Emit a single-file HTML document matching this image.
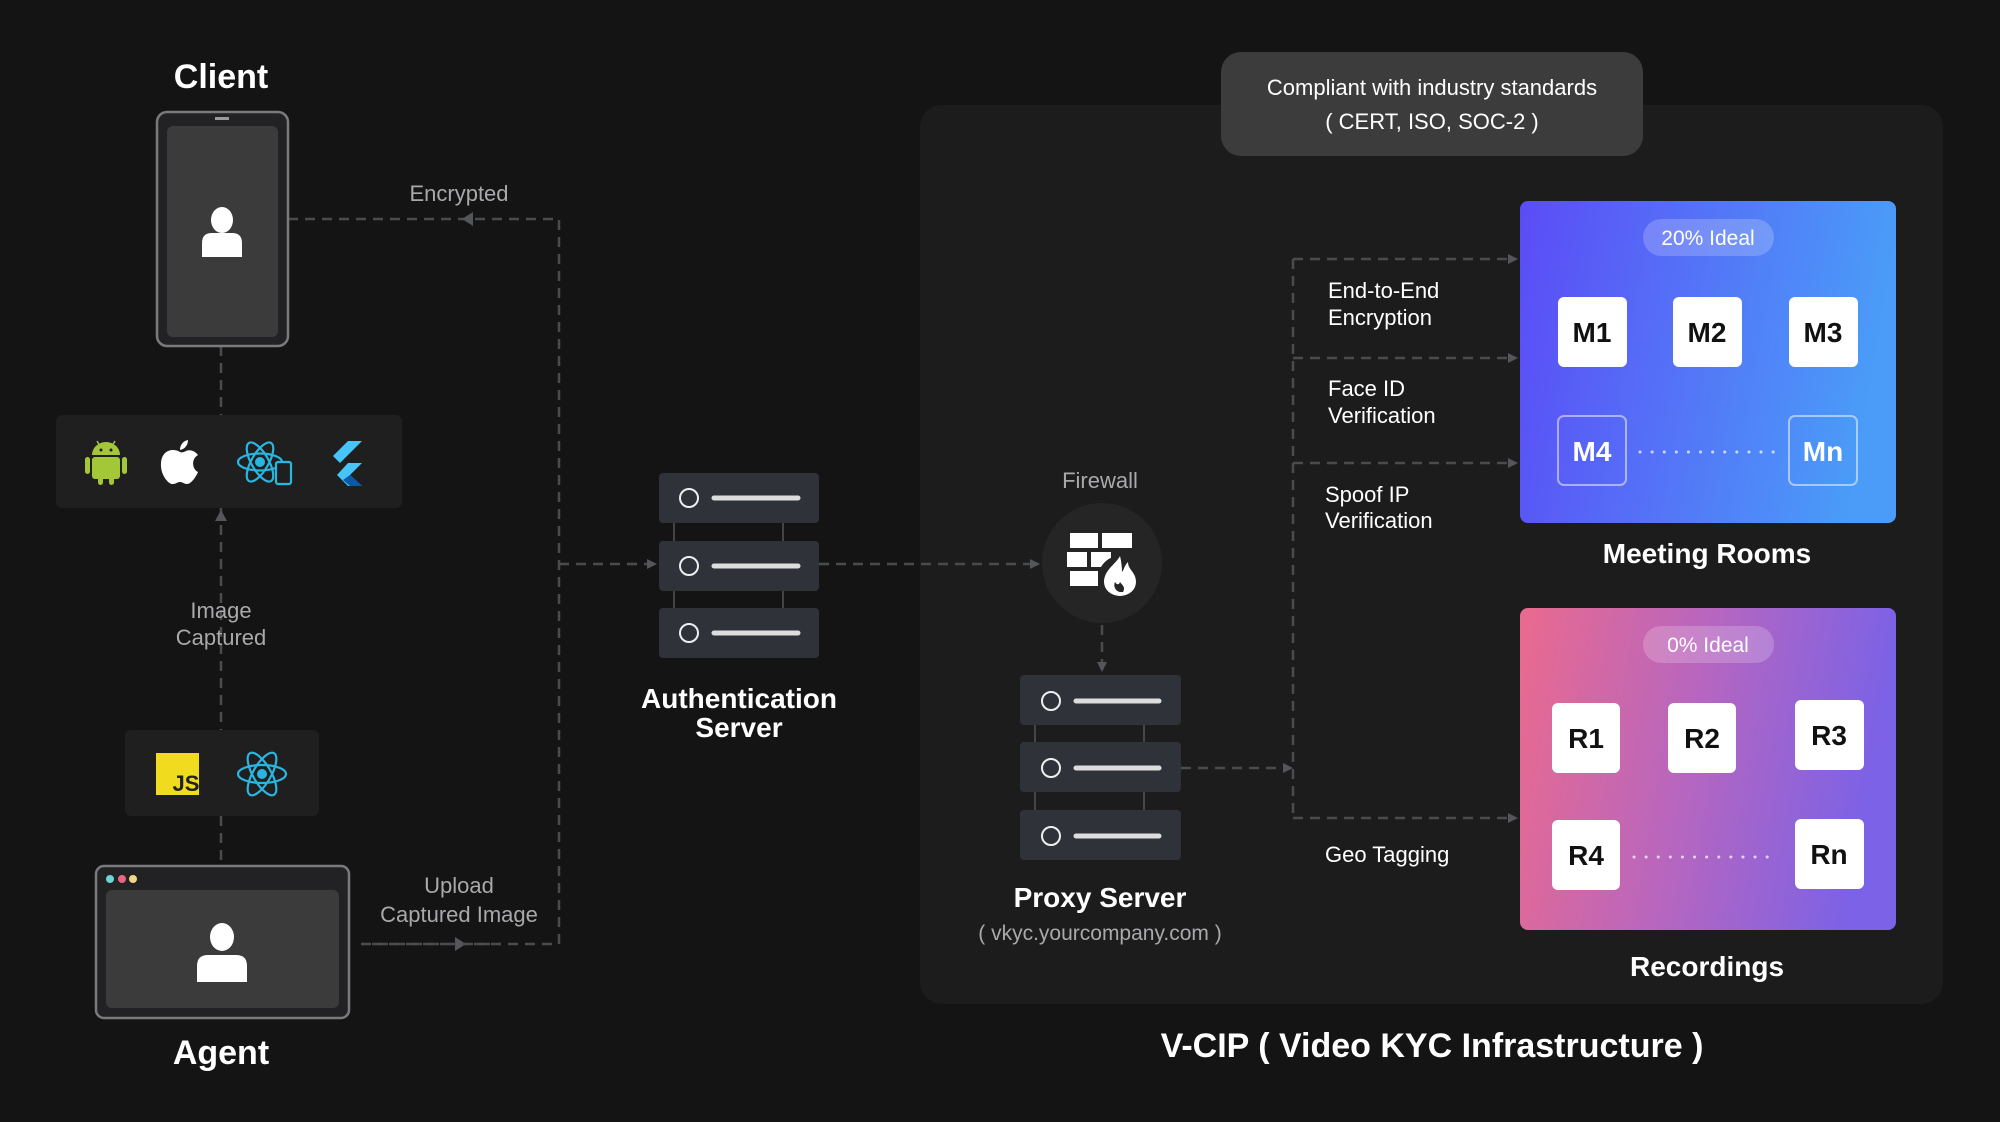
<!DOCTYPE html>
<html><head><meta charset="utf-8"><style>
html,body{margin:0;padding:0;background:#141415;}
svg{display:block}
text{font-family:"Liberation Sans",sans-serif;}
</style></head><body>
<svg width="2000" height="1122" viewBox="0 0 2000 1122" xmlns="http://www.w3.org/2000/svg">
<defs>
<linearGradient id="gm" x1="0" y1="0" x2="1" y2="0.15"><stop offset="0" stop-color="#5b4cf6"/><stop offset="0.5" stop-color="#5474f7"/><stop offset="1" stop-color="#4a9cf8"/></linearGradient>
<linearGradient id="gr" x1="0" y1="0" x2="1" y2="0.15"><stop offset="0" stop-color="#ea6a8e"/><stop offset="0.5" stop-color="#b766bf"/><stop offset="1" stop-color="#7b62e6"/></linearGradient>
<marker id="ah" markerWidth="10" markerHeight="10" refX="8" refY="5" orient="auto" markerUnits="userSpaceOnUse"><path d="M0,0 L10,5 L0,10 z" fill="#55565a"/></marker>
</defs>
<rect width="2000" height="1122" fill="#141415"/>

<!-- container -->
<rect x="920" y="105" width="1023" height="899" rx="22" fill="#1c1c1d"/>
<rect x="1221" y="52" width="422" height="104" rx="20" fill="#3c3c3d"/>
<text x="1432" y="95" text-anchor="middle" fill="#fff" font-size="22">Compliant with industry standards</text>
<text x="1432" y="129" text-anchor="middle" fill="#fff" font-size="22">( CERT, ISO, SOC-2 )</text>

<!-- dashed connectors -->
<g stroke="#4a4b4f" stroke-width="2.5" stroke-dasharray="10,7" fill="none">
<path d="M221 346 V415"/>
<path d="M221 508 V730"/>
<path d="M221 816 V865"/>
<path d="M288 219 H559 V944 H361"/>
<path d="M559 564 H655" marker-end="url(#ah)"/>
<path d="M819 564 H1038" marker-end="url(#ah)"/>
<path d="M1102 625 V670" marker-end="url(#ah)"/>
<path d="M1181 768 H1291" marker-end="url(#ah)"/>
<path d="M1293 259 V818"/>
<path d="M1293 259 H1516" marker-end="url(#ah)"/>
<path d="M1293 358 H1516" marker-end="url(#ah)"/>
<path d="M1293 463 H1516" marker-end="url(#ah)"/>
<path d="M1293 818 H1516" marker-end="url(#ah)"/>
</g>
<path d="M221 510 l-6 11 h12 z" fill="#55565a"/>
<path d="M462 219 l11 -7 v14 z" fill="#55565a"/>
<path d="M466 944 l-11 -7 v14 z" fill="#55565a"/>
<path d="M490 944 H361" stroke="#4a4b4f" stroke-width="2.5" stroke-dasharray="10,7"/>

<!-- Client -->
<text x="221" y="88" text-anchor="middle" fill="#fff" font-size="34" font-weight="bold">Client</text>
<rect x="157" y="112" width="131" height="234" rx="10" fill="#222224" stroke="#7a7a7c" stroke-width="2.5"/>
<rect x="167" y="126" width="111" height="211" rx="6" fill="#3b3b3c"/>
<rect x="215" y="117" width="14" height="3" fill="#9a9a9a"/>
<ellipse cx="222" cy="220" rx="11" ry="13" fill="#fff"/>
<path d="M202 257 V243 q0-10 10-10 h20 q10 0 10 10 V257 z" fill="#fff"/>

<!-- platforms -->
<rect x="56" y="415" width="346" height="93" rx="6" fill="#1f1f20"/>
<!-- android -->
<g fill="#a4c639">
<path d="M92 455 a14 13 0 0 1 28 0 z"/>
<rect x="92" y="457" width="28" height="22" rx="3"/>
<rect x="85" y="457" width="5" height="17" rx="2.5"/>
<rect x="122" y="457" width="5" height="17" rx="2.5"/>
<rect x="98" y="475" width="5" height="10" rx="2.5"/>
<rect x="109" y="475" width="5" height="10" rx="2.5"/>
<path d="M97 441 l3 5 M115 441 l-3 5" stroke="#a4c639" stroke-width="1.5"/>
</g>
<circle cx="101" cy="450" r="1.5" fill="#1f1f20"/><circle cx="111" cy="450" r="1.5" fill="#1f1f20"/>
<!-- apple -->
<path d="M180 452 c-6-4-18-3-19 11 c-1 12 8 22 12 21 c3 0 4-2 7-2 c3 0 4 2 7 2 c4 0 9-7 11-12 c-6-3-7-13 0-17 c-3-4-8-6-12-4 c-2 1-4 2-6 1 z M180 450 c0-5 3-9 8-10 c0 5-3 9-8 10 z" fill="#fff"/>
<!-- react mobile -->
<g stroke="#29b6e0" stroke-width="2.2" fill="none">
<ellipse cx="260" cy="462" rx="22" ry="8.5"/>
<ellipse cx="260" cy="462" rx="22" ry="8.5" transform="rotate(60 260 462)"/>
<ellipse cx="260" cy="462" rx="22" ry="8.5" transform="rotate(-60 260 462)"/>
<rect x="276" y="462" width="15" height="22" rx="2" fill="#1f1f20"/>
</g>
<circle cx="260" cy="462" r="5" fill="#29b6e0"/>
<!-- flutter -->
<path d="M348 441 h14 l-22 22 l-7 -7 z" fill="#47c5fb"/>
<path d="M348 463 h14 l-12 12 l12 11 h-14 l-11 -11 z" fill="#47c5fb"/>
<path d="M343 480 l7 6 h12 l-12 -11 z" fill="#0b58a4"/>

<text x="221" y="618" text-anchor="middle" fill="#a9a9ab" font-size="22">Image</text>
<text x="221" y="645" text-anchor="middle" fill="#a9a9ab" font-size="22">Captured</text>

<!-- JS box -->
<rect x="125" y="730" width="194" height="86" rx="6" fill="#1f1f20"/>
<rect x="156" y="753" width="43" height="42" fill="#f0db1f"/>
<text x="186" y="791" text-anchor="middle" fill="#222" font-size="22" font-weight="bold">JS</text>
<g stroke="#29b6e0" stroke-width="2.2" fill="none">
<ellipse cx="262" cy="774" rx="24" ry="9"/>
<ellipse cx="262" cy="774" rx="24" ry="9" transform="rotate(60 262 774)"/>
<ellipse cx="262" cy="774" rx="24" ry="9" transform="rotate(-60 262 774)"/>
</g>
<circle cx="262" cy="774" r="5" fill="#29b6e0"/>

<!-- Agent -->
<rect x="96" y="866" width="253" height="152" rx="8" fill="#222224" stroke="#7a7a7c" stroke-width="2.5"/>
<rect x="106" y="890" width="233" height="118" rx="6" fill="#3b3b3c"/>
<circle cx="110" cy="879" r="4" fill="#6fd3d8"/><circle cx="122" cy="879" r="4" fill="#e8677e"/><circle cx="133" cy="879" r="4" fill="#f1d58a"/>
<ellipse cx="222" cy="937" rx="12" ry="14" fill="#fff"/>
<path d="M197 982 V966 q0-11 11-11 h28 q11 0 11 11 V982 z" fill="#fff"/>
<text x="221" y="1064" text-anchor="middle" fill="#fff" font-size="34" font-weight="bold">Agent</text>

<text x="459" y="201" text-anchor="middle" fill="#a9a9ab" font-size="22">Encrypted</text>
<text x="459" y="893" text-anchor="middle" fill="#a9a9ab" font-size="22">Upload</text>
<text x="459" y="922" text-anchor="middle" fill="#a9a9ab" font-size="22">Captured Image</text>

<!-- auth server -->
<g>
<line x1="674" y1="523" x2="674" y2="608" stroke="#555" stroke-width="1.5"/>
<line x1="783" y1="523" x2="783" y2="608" stroke="#555" stroke-width="1.5"/>
<rect x="659" y="473" width="160" height="50" rx="4" fill="#30323a"/>
<rect x="659" y="541" width="160" height="50" rx="4" fill="#30323a"/>
<rect x="659" y="608" width="160" height="50" rx="4" fill="#30323a"/>
<g stroke="#eee" fill="none" stroke-width="2"><circle cx="689" cy="498" r="9"/><circle cx="689" cy="566" r="9"/><circle cx="689" cy="633" r="9"/></g>
<g stroke="#ddd" stroke-width="5" stroke-linecap="round"><path d="M714 498 H798 M714 566 H798 M714 633 H798"/></g>
</g>
<text x="739" y="708" text-anchor="middle" fill="#fff" font-size="28" font-weight="bold">Authentication</text>
<text x="739" y="737" text-anchor="middle" fill="#fff" font-size="28" font-weight="bold">Server</text>

<!-- firewall -->
<text x="1100" y="488" text-anchor="middle" fill="#a9a9ab" font-size="22">Firewall</text>
<circle cx="1102" cy="563" r="60" fill="#252526"/>
<g fill="#fff">
<rect x="1070" y="533" width="28" height="15"/><rect x="1102" y="533" width="30" height="15"/>
<rect x="1067" y="552" width="20" height="15"/><rect x="1091" y="552" width="20" height="15"/>
<rect x="1070" y="571" width="28" height="15"/>
</g>
<circle cx="1120" cy="578" r="22" fill="#252526"/>
<path d="M1120 556 c-4 8 -16 14 -16 26 a16 14 0 0 0 32 0 c0-10 -8-12 -8-20 c-4 4 -4 8 -6 10 c0-6 -1-12 -2-16 z" fill="#fff"/>
<path d="M1120 592 a7 7 0 0 1 -5-10 c2 3 4 3 5 0 c2 3 6 5 3 10 z" fill="#252526"/>

<!-- proxy server -->
<line x1="1035" y1="725" x2="1035" y2="810" stroke="#555" stroke-width="1.5"/>
<line x1="1144" y1="725" x2="1144" y2="810" stroke="#555" stroke-width="1.5"/>
<rect x="1020" y="675" width="161" height="50" rx="4" fill="#30323a"/>
<rect x="1020" y="742" width="161" height="50" rx="4" fill="#30323a"/>
<rect x="1020" y="810" width="161" height="50" rx="4" fill="#30323a"/>
<g stroke="#eee" fill="none" stroke-width="2"><circle cx="1051" cy="701" r="9"/><circle cx="1051" cy="768" r="9"/><circle cx="1051" cy="836" r="9"/></g>
<g stroke="#ddd" stroke-width="5" stroke-linecap="round"><path d="M1076 701 H1159 M1076 768 H1159 M1076 836 H1159"/></g>
<text x="1100" y="907" text-anchor="middle" fill="#fff" font-size="28" font-weight="bold">Proxy Server</text>
<text x="1100" y="940" text-anchor="middle" fill="#a9a9ab" font-size="21">( vkyc.yourcompany.com )</text>

<!-- labels -->
<g fill="#fff" font-size="22">
<text x="1328" y="298">End-to-End</text><text x="1328" y="325">Encryption</text>
<text x="1328" y="396">Face ID</text><text x="1328" y="423">Verification</text>
<text x="1325" y="502">Spoof IP</text><text x="1325" y="528">Verification</text>
<text x="1325" y="862">Geo Tagging</text>
</g>

<!-- meeting rooms -->
<rect x="1520" y="201" width="376" height="322" rx="8" fill="url(#gm)"/>
<rect x="1643" y="219" width="131" height="37" rx="18.5" fill="#fff" fill-opacity="0.2"/>
<text x="1708" y="245" text-anchor="middle" fill="#fff" font-size="21">20% Ideal</text>
<g fill="#fff"><rect x="1558" y="297" width="69" height="70" rx="6"/><rect x="1673" y="297" width="69" height="70" rx="6"/><rect x="1789" y="297" width="69" height="70" rx="6"/></g>
<g fill="none" stroke="#fff" stroke-opacity="0.5" stroke-width="2"><rect x="1558" y="416" width="68" height="69" rx="6"/><rect x="1789" y="416" width="68" height="69" rx="6"/></g>
<g font-size="28" font-weight="bold" text-anchor="middle">
<text x="1592" y="342" fill="#111">M1</text><text x="1707" y="342" fill="#111">M2</text><text x="1823" y="342" fill="#111">M3</text>
<text x="1592" y="461" fill="#fff">M4</text><text x="1823" y="461" fill="#fff">Mn</text>
</g>
<line x1="1640" y1="452" x2="1777" y2="452" stroke="#fff" stroke-opacity="0.7" stroke-width="3" stroke-dasharray="0.1,12" stroke-linecap="round"/>
<text x="1707" y="563" text-anchor="middle" fill="#fff" font-size="28" font-weight="bold">Meeting Rooms</text>

<!-- recordings -->
<rect x="1520" y="608" width="376" height="322" rx="8" fill="url(#gr)"/>
<rect x="1643" y="626" width="131" height="37" rx="18.5" fill="#fff" fill-opacity="0.2"/>
<text x="1708" y="652" text-anchor="middle" fill="#fff" font-size="21">0% Ideal</text>
<g fill="#fff"><rect x="1552" y="703" width="68" height="70" rx="6"/><rect x="1668" y="703" width="68" height="70" rx="6"/><rect x="1795" y="700" width="69" height="70" rx="6"/><rect x="1552" y="820" width="68" height="70" rx="6"/><rect x="1795" y="819" width="69" height="70" rx="6"/></g>
<g font-size="28" font-weight="bold" text-anchor="middle" fill="#111">
<text x="1586" y="748">R1</text><text x="1702" y="748">R2</text><text x="1829" y="745">R3</text>
<text x="1586" y="865">R4</text><text x="1829" y="864">Rn</text>
</g>
<line x1="1634" y1="857" x2="1773" y2="857" stroke="#fff" stroke-opacity="0.7" stroke-width="3" stroke-dasharray="0.1,12" stroke-linecap="round"/>
<text x="1707" y="976" text-anchor="middle" fill="#fff" font-size="28" font-weight="bold">Recordings</text>

<text x="1432" y="1057" text-anchor="middle" fill="#fff" font-size="34" font-weight="bold">V-CIP ( Video KYC Infrastructure )</text>
</svg>
</body></html>
